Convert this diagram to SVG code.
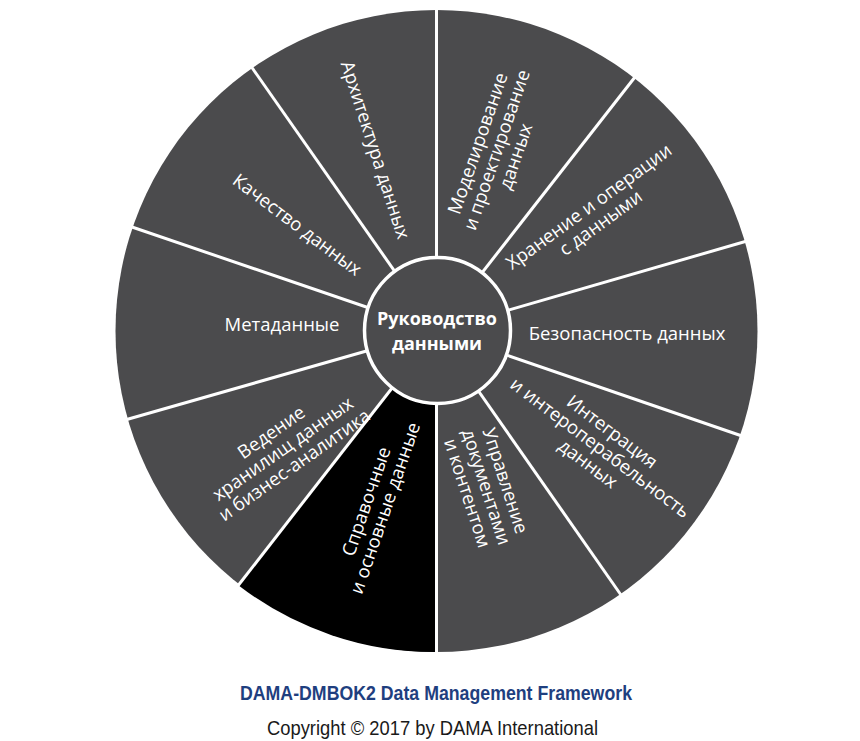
<svg xmlns="http://www.w3.org/2000/svg" width="860" height="741" viewBox="0 0 860 741">
<style>
.seg{fill:#4b4b4d}
.spoke{stroke:#ffffff;stroke-width:3;fill:none}
.lbl{font-family:"Open Sans","Noto Sans","Liberation Sans",sans-serif;font-size:18.5px;fill:#ffffff;text-anchor:middle}
.hub{font-family:"Open Sans","Noto Sans","Liberation Sans",sans-serif;font-size:18px;font-weight:bold;fill:#ffffff;text-anchor:middle}
</style>
<rect width="860" height="741" fill="#ffffff"/>
<g id="wheel">
<circle class="seg" cx="436.5" cy="331" r="321"/>
<path id="black-wedge" d="M436.5,331 L436.5,652 A321,321 0 0 1 238,585 Z" fill="#000000"/>
</g>
<g id="connectors">
<line class="spoke" x1="436.5" y1="331" x2="436.5" y2="8"/>
<line class="spoke" x1="436.5" y1="331" x2="635" y2="77"/>
<line class="spoke" x1="436.5" y1="331" x2="747" y2="241"/>
<line class="spoke" x1="436.5" y1="331" x2="742" y2="436"/>
<line class="spoke" x1="436.5" y1="331" x2="621" y2="595"/>
<line class="spoke" x1="436.5" y1="331" x2="436.5" y2="654"/>
<line class="spoke" x1="436.5" y1="331" x2="237" y2="587"/>
<line class="spoke" x1="436.5" y1="331" x2="125" y2="420"/>
<line class="spoke" x1="436.5" y1="331" x2="129" y2="226"/>
<line class="spoke" x1="436.5" y1="331" x2="250.5" y2="65.5"/>
</g>
<g id="n-arch"><text class="lbl" transform="translate(375,150) rotate(72)" y="6">Архитектура данных</text></g>
<g id="n-model"><text class="lbl" transform="translate(497,150) rotate(-71)"><tspan x="0" y="-14">Моделирование</tspan><tspan x="0" y="6">и проектирование</tspan><tspan x="0" y="26">данных</tspan></text></g>
<g id="n-storage"><text class="lbl" transform="translate(595,215) rotate(-36)"><tspan x="0" y="-4">Хранение и операции</tspan><tspan x="0" y="16">с данными</tspan></text></g>
<g id="n-security"><text class="lbl" x="627" y="340">Безопасность данных</text></g>
<g id="n-integration"><text class="lbl" transform="translate(600,448) rotate(37)"><tspan x="0" y="-14">Интеграция</tspan><tspan x="0" y="6">и интероперабельность</tspan><tspan x="0" y="26">данных</tspan></text></g>
<g id="n-docs"><text class="lbl" transform="translate(486,487) rotate(72)"><tspan x="0" y="-14">Управление</tspan><tspan x="0" y="6">документами</tspan><tspan x="0" y="26">и контентом</tspan></text></g>
<g id="n-master"><text class="lbl" transform="translate(376,505) rotate(-71)"><tspan x="0" y="-4">Справочные</tspan><tspan x="0" y="16">и основные данные</tspan></text></g>
<g id="n-dwbi"><text class="lbl" transform="translate(283,449) rotate(-35)"><tspan x="0" y="-14">Ведение</tspan><tspan x="0" y="6">хранилищ данных</tspan><tspan x="0" y="26">и бизнес-аналитика</tspan></text></g>
<g id="n-meta"><text class="lbl" x="282" y="331">Метаданные</text></g>
<g id="n-quality"><text class="lbl" transform="translate(297,225) rotate(37)" y="6">Качество данных</text></g>
<g id="n-governance">
<circle cx="437.5" cy="330.5" r="73" fill="#4b4b4d" stroke="#ffffff" stroke-width="3.5"/>
<text class="hub"><tspan x="437" y="325">Руководство</tspan><tspan x="437" y="350">данными</tspan></text>
</g>
<g id="caption">
<text x="436" y="700" font-family="'Liberation Sans Narrow','Liberation Sans',sans-serif" font-size="21" font-weight="bold" fill="#1f3f7f" text-anchor="middle" textLength="392" lengthAdjust="spacingAndGlyphs">DAMA-DMBOK2 Data Management Framework</text>
<text x="432.5" y="735" font-family="'Liberation Sans Narrow','Liberation Sans',sans-serif" font-size="21" fill="#1a1a1a" text-anchor="middle" textLength="331" lengthAdjust="spacingAndGlyphs">Copyright © 2017 by DAMA International</text>
</g>
</svg>
